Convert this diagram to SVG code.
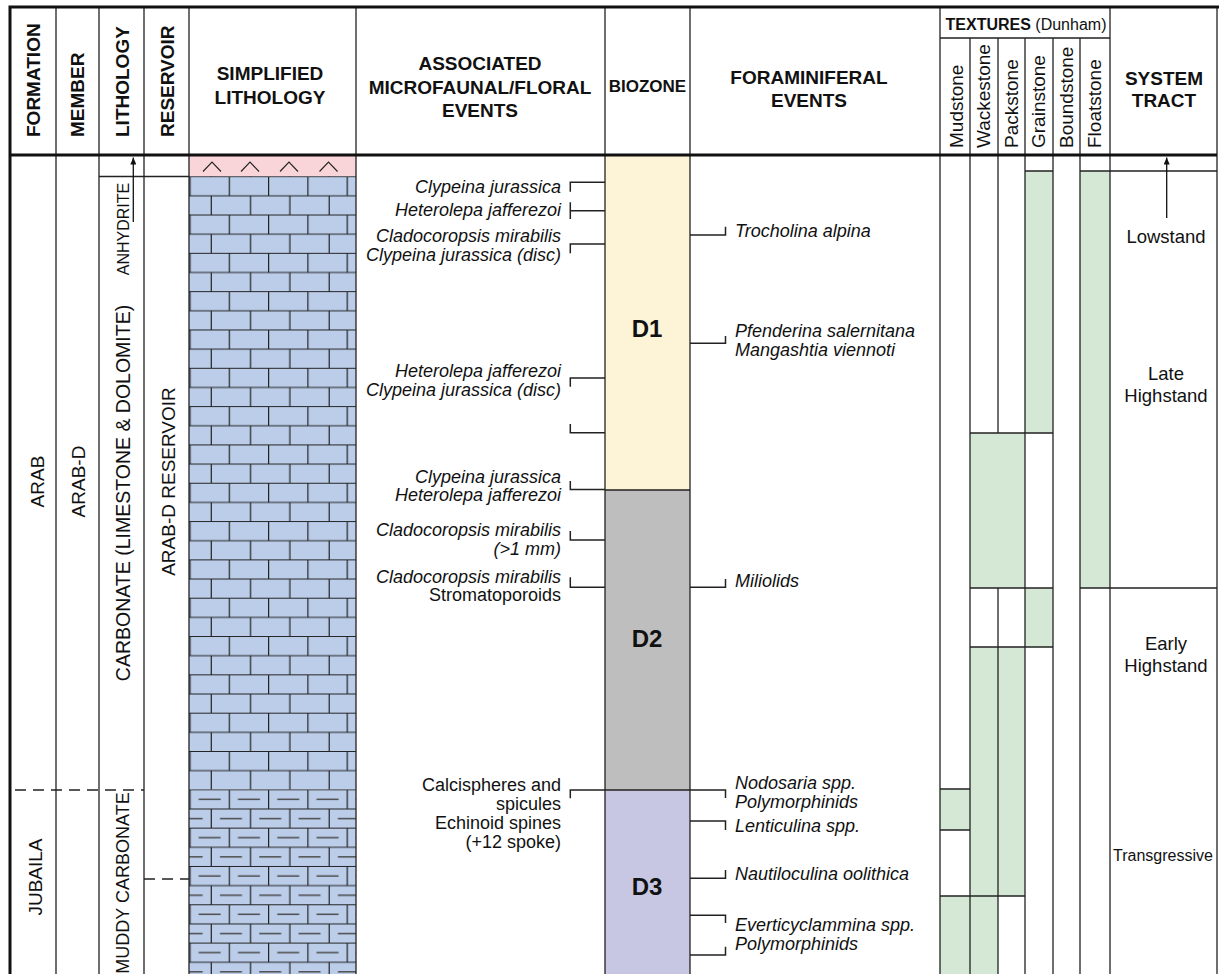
<svg xmlns="http://www.w3.org/2000/svg" width="1219" height="974" viewBox="0 0 1219 974">
<style>
text{font-family:"Liberation Sans",Arial,sans-serif;fill:#111}
.h{font-weight:bold;font-size:19px}
.hs{font-weight:bold;font-size:17px}
.r19{font-size:19px}
.ev{font-size:18px;font-style:italic}
.evr{font-size:18px}
.st{font-size:18.5px}
.bz{font-weight:bold;font-size:24px}
.ln{stroke:#222;stroke-width:1.3;fill:none}
.thk{stroke:#111;stroke-width:3;fill:none}
.br{stroke:#222;stroke-width:1.5;fill:none}
.dash{stroke:#222;stroke-width:1.3;stroke-dasharray:11 7;fill:none}
.gr{fill:#D5E8D5;stroke:none}
</style>
<defs>
<pattern id="brick" patternUnits="userSpaceOnUse" x="189.4" y="176.2" width="39.3" height="38.32">
<rect width="39.3" height="38.32" fill="#BBCDE9"/>
<path d="M0,0.5H39.3M0,19.66H39.3M0.6,0V19.16M21.9,19.16V38.32" stroke="#222" stroke-width="1.2"/>
</pattern>
<pattern id="mud" patternUnits="userSpaceOnUse" x="189.4" y="176.2" width="39.3" height="38.32">
<rect width="39.3" height="38.32" fill="#BBCDE9"/>
<path d="M0,0.5H39.3M0,19.66H39.3M0.6,0V19.16M21.9,19.16V38.32" stroke="#222" stroke-width="1.2"/>
<path d="M9.25,10.1H31.25M0,29.24H13.25M30.55,29.24H39.3" stroke="#4a4a4a" stroke-width="1.4"/>
</pattern>
<marker id="ah" viewBox="0 0 10 10" refX="10" refY="5" markerWidth="7" markerHeight="6" preserveAspectRatio="none" orient="auto" markerUnits="userSpaceOnUse">
<path d="M0,0L10,5L0,10z" fill="#111"/>
</marker>
</defs>

<rect width="1219" height="974" fill="#fff"/>

<!-- fills -->
<g id="simplified-lithology">
<rect x="189" y="155" width="167" height="21.5" fill="#F9D5DA"/>
<path d="M203,171.5L212,162L221,171.5M241,171.5L250,162L259,171.5M280,171.5L289,162L298,171.5M319.5,171.5L328.5,162L337.5,171.5" stroke="#222" stroke-width="1.1" fill="none"/>
<rect x="189" y="176.2" width="167" height="613.1" fill="url(#brick)"/>
<rect x="189" y="789.3" width="167" height="185" fill="url(#mud)"/>
</g>

<g id="biozones">
<g id="D1"><rect x="605" y="155" width="85" height="335" fill="#FDF3D7"/><text class="bz" x="647" y="337" text-anchor="middle">D1</text></g>
<g id="D2"><rect x="605" y="490" width="85" height="300" fill="#BEBEBE"/><text class="bz" x="647" y="647" text-anchor="middle">D2</text></g>
<g id="D3"><rect x="605" y="790" width="85" height="184" fill="#C8C7E3"/><text class="bz" x="647" y="895" text-anchor="middle">D3</text></g>
<path class="ln" d="M605,490H690M605,790H690"/>
</g>

<g id="textures">
<rect class="gr" x="1025" y="171" width="28" height="262"/>
<rect class="gr" x="1080" y="171" width="30" height="417"/>
<rect class="gr" x="970" y="433" width="55" height="155"/>
<rect class="gr" x="1025" y="588" width="28" height="59"/>
<rect class="gr" x="970" y="647" width="55" height="249"/>
<rect class="gr" x="940" y="789" width="30" height="41"/>
<rect class="gr" x="940" y="896" width="30" height="78"/>
<rect class="gr" x="970" y="896" width="28" height="78"/>
<path class="ln" d="M1025,171H1053M1080,171H1217M970,433H1053M970,588H1053M1080,588H1217M970,647H1053M940,789H970M940,830H970M940,896H1025"/>
<path class="ln" d="M970,38V974M998,38V433M998,588V974M1025,38V974M1053,38V974M1080,38V974M940,38H1110"/>
</g>

<!-- grid -->
<g id="grid">
<path class="ln" d="M56,7V974M99,7V974M144,7V974M189,7V974M356,7V974M605,7V974M690,7V974M940,7V974M1110,7V974M1217,7V974"/>
<path class="ln" d="M99,176.5H189"/>
<path class="dash" d="M15,790H144M144,879H189"/>
<path class="thk" d="M8.5,7H1219M10,7V974M10,155H1217"/>
</g>

<!-- header -->
<g id="header">
<text class="h" transform="translate(40,137) rotate(-90)">FORMATION</text>
<text class="h" transform="translate(84,137) rotate(-90)">MEMBER</text>
<text class="h" transform="translate(128.5,137) rotate(-90)">LITHOLOGY</text>
<text class="h" transform="translate(173.5,137) rotate(-90)">RESERVOIR</text>
<text class="h" x="270" y="79.5" text-anchor="middle">SIMPLIFIED</text>
<text class="h" x="270" y="103.5" text-anchor="middle">LITHOLOGY</text>
<text class="h" x="480" y="70" text-anchor="middle">ASSOCIATED</text>
<text class="h" x="480" y="93.5" text-anchor="middle">MICROFAUNAL/FLORAL</text>
<text class="h" x="480" y="117" text-anchor="middle">EVENTS</text>
<text class="hs" x="647.5" y="92" text-anchor="middle">BIOZONE</text>
<text class="h" x="809" y="84" text-anchor="middle">FORAMINIFERAL</text>
<text class="h" x="809" y="107" text-anchor="middle">EVENTS</text>
<text x="1026" y="29.5" text-anchor="middle" style="font-size:16px"><tspan font-weight="bold">TEXTURES</tspan> (Dunham)</text>
<text class="r19" transform="translate(962.5,148) rotate(-90)">Mudstone</text>
<text class="r19" transform="translate(990,148) rotate(-90)">Wackestone</text>
<text class="r19" transform="translate(1018,148) rotate(-90)">Packstone</text>
<text class="r19" transform="translate(1045,148) rotate(-90)">Grainstone</text>
<text class="r19" transform="translate(1073,148) rotate(-90)">Boundstone</text>
<text class="r19" transform="translate(1100.5,148) rotate(-90)">Floatstone</text>
<text class="h" x="1164" y="85" text-anchor="middle">SYSTEM</text>
<text class="h" x="1164" y="107" text-anchor="middle">TRACT</text>
</g>

<!-- stratigraphy -->
<g id="formation">
<text class="r19" transform="translate(43.5,481.5) rotate(-90)" text-anchor="middle">ARAB</text>
<text class="r19" transform="translate(42,877) rotate(-90)" text-anchor="middle">JUBAILA</text>
</g>
<g id="member">
<text class="r19" transform="translate(85,481.5) rotate(-90)" text-anchor="middle">ARAB-D</text>
</g>
<g id="lithology">
<text transform="translate(128.5,229) rotate(-90)" text-anchor="middle" style="font-size:16px">ANHYDRITE</text>
<text transform="translate(130,493) rotate(-90)" text-anchor="middle" style="font-size:19.5px">CARBONATE (LIMESTONE &amp; DOLOMITE)</text>
<text transform="translate(128.5,883) rotate(-90)" text-anchor="middle" style="font-size:18px">MUDDY CARBONATE</text>
</g>
<g id="reservoir">
<text class="r19" transform="translate(174.5,481.5) rotate(-90)" text-anchor="middle">ARAB-D RESERVOIR</text>
</g>

<!-- microfaunal/floral events -->
<g id="microfaunal-events" text-anchor="end">
<text class="ev" x="561" y="193">Clypeina jurassica</text>
<text class="ev" x="561" y="216">Heterolepa jafferezoi</text>
<text class="ev" x="561" y="242">Cladocoropsis mirabilis</text>
<text class="ev" x="561" y="261">Clypeina jurassica (disc)</text>
<text class="ev" x="561" y="377">Heterolepa jafferezoi</text>
<text class="ev" x="561" y="395.5">Clypeina jurassica (disc)</text>
<text class="ev" x="561" y="483">Clypeina jurassica</text>
<text class="ev" x="561" y="501">Heterolepa jafferezoi</text>
<text class="ev" x="561" y="535.5">Cladocoropsis mirabilis</text>
<text class="ev" x="561" y="554.5">(&gt;1 mm)</text>
<text class="ev" x="561" y="583">Cladocoropsis mirabilis</text>
<text class="evr" x="561" y="601">Stromatoporoids</text>
<text class="evr" x="561" y="791">Calcispheres and</text>
<text class="evr" x="561" y="810">spicules</text>
<text class="evr" x="561" y="829">Echinoid spines</text>
<text class="evr" x="561" y="848">(+12 spoke)</text>
</g>

<!-- foraminiferal events -->
<g id="foraminiferal-events">
<text class="ev" x="735" y="237">Trocholina alpina</text>
<text class="ev" x="735" y="337">Pfenderina salernitana</text>
<text class="ev" x="735" y="356">Mangashtia viennoti</text>
<text class="ev" x="735" y="587">Miliolids</text>
<text class="ev" x="735" y="789">Nodosaria spp.</text>
<text class="ev" x="735" y="808">Polymorphinids</text>
<text class="ev" x="735" y="832">Lenticulina spp.</text>
<text class="ev" x="735" y="880">Nautiloculina oolithica</text>
<text class="ev" x="735" y="931">Everticyclammina spp.</text>
<text class="ev" x="735" y="950">Polymorphinids</text>
</g>

<!-- system tract -->
<g id="system-tract" text-anchor="middle">
<text class="st" x="1166" y="242.5">Lowstand</text>
<text class="st" x="1166" y="379.5">Late</text>
<text class="st" x="1166" y="401.5">Highstand</text>
<text class="st" x="1166" y="649.5">Early</text>
<text class="st" x="1166" y="671.5">Highstand</text>
<text x="1163" y="861" style="font-size:16px">Transgressive</text>
</g>

<!-- connectors -->
<g id="connectors">
<path class="br" d="M605,182.3H570.3V191.7"/>
<path class="br" d="M570.3,202.3V219M570.3,210.7H605"/>
<path class="br" d="M605,244H570.3V253.3"/>
<path class="br" d="M605,378H570.3V386.7"/>
<path class="br" d="M570.3,424V432.7H605"/>
<path class="br" d="M570.3,481V489.5H605"/>
<path class="br" d="M570.3,531V540H605"/>
<path class="br" d="M570.3,577.3V587.3H605"/>
<path class="br" d="M605,790H570.3V798.3"/>
<path class="br" d="M690,235H725.5V226.7"/>
<path class="br" d="M690,343.3H725.5V336"/>
<path class="br" d="M690,587.3H725.5V579"/>
<path class="br" d="M690,790H725.5V798"/>
<path class="br" d="M690,821H725.5V830"/>
<path class="br" d="M690,878.3H725.5V870"/>
<path class="br" d="M690,915.3H725.5V923"/>
<path class="br" d="M690,955H725.5V946.7"/>
<line x1="133.3" y1="222" x2="133.3" y2="157.5" stroke="#111" stroke-width="1.3" marker-end="url(#ah)"/>
<line x1="1166.7" y1="218" x2="1166.7" y2="157.5" stroke="#111" stroke-width="1.3" marker-end="url(#ah)"/>
</g>
</svg>
